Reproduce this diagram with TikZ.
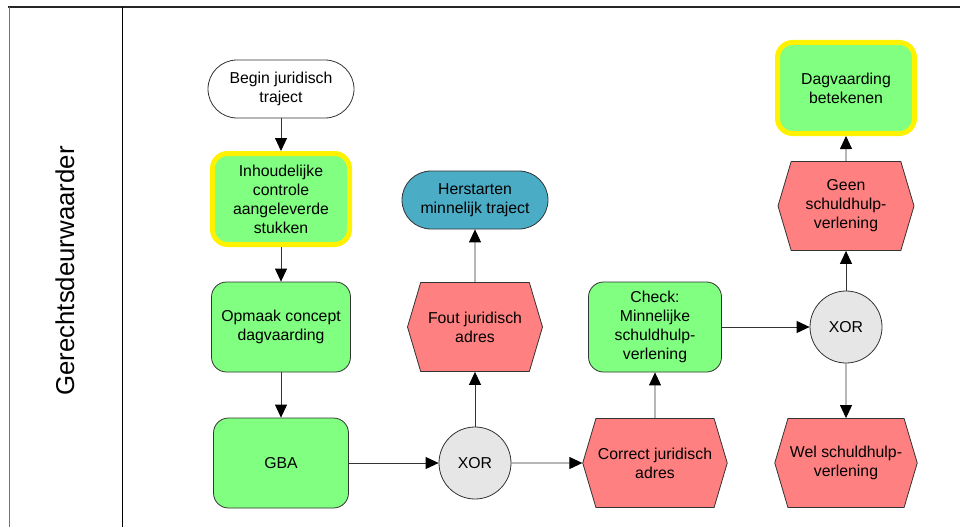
\documentclass[tikz,border=0pt]{standalone}
\usepackage{fontspec}
\setmainfont{Liberation Sans}
\usetikzlibrary{arrows.meta,shapes.symbols}
\definecolor{funcgreen}{HTML}{80FF80}
\definecolor{eventred}{HTML}{FF8080}
\definecolor{procblue}{HTML}{4BACC6}
\definecolor{xorgrey}{HTML}{E6E6E6}
\tikzset{
    box/.style={draw=black!80, line width=0.8pt, align=center, inner sep=2pt,
        font=\fontsize{15.8}{19}\selectfont},
    func/.style={box, rectangle, rounded corners=15pt, fill=funcgreen,
        minimum width=139pt, minimum height=90pt},
    startfunc/.style={func, draw=yellow, line width=5pt,
        minimum width=137pt, minimum height=91pt},
    event/.style={box, signal, signal to=east and west, signal pointer angle=147,
        fill=eventred, minimum width=135pt, minimum height=89pt},
    term/.style={box, rectangle, rounded corners=29pt,
        minimum width=146pt, minimum height=58pt},
    xor/.style={box, circle, fill=xorgrey, minimum size=72pt, inner sep=0pt},
    flow/.style={draw=black!80, line width=0.9pt,
        -{Triangle[length=13pt,width=12pt,black]}}
}
\begin{document}
\begin{tikzpicture}[x=1pt, y=-1pt]
        \useasboundingbox (0, 0) rectangle (960, 527);
        % lane
        \draw [line width=1.6pt, black!85] (8, 7) -- (960, 7);
        \draw [line width=1pt, black!55] (9, 7) -- (9, 527);
        \draw [line width=1pt] (122, 7) -- (122, 527);
        \node (lane) at (65, 271) [rotate=90, font=\fontsize{25.8}{30}\selectfont] {Gerechtsdeurwaarder};
        % nodes
        \node (0) at (281, 89) [term, fill=white] {Begin juridisch\\traject};
        \node (1) at (281, 199) [startfunc] {Inhoudelijke\\controle\\aangeleverde\\stukken};
        \node (2) at (281, 327) [func] {Opmaak concept\\dagvaarding};
        \node (3) at (281, 463) [func, minimum width=135pt] {GBA};
        \node (4) at (475, 463) [xor] {XOR};
        \node (5) at (475, 327) [event] {Fout juridisch\\adres};
        \node (6) at (475, 200) [term, fill=procblue] {Herstarten\\minnelijk traject};
        \node (7) at (655, 463) [event] {Correct juridisch\\adres};
        \node (8) at (655, 327) [func, minimum width=133pt] {Check:\\Minnelijke\\schuldhulp-\\verlening};
        \node (9) at (846, 327) [xor] {XOR};
        \node (10) at (846, 206) [event, minimum width=136pt] {Geen\\schuldhulp-\\verlening};
        \node (11) at (846, 88) [startfunc] {Dagvaarding\\betekenen};
        \node (12) at (846, 463) [event, minimum width=136pt] {Wel schuldhulp-\\verlening};
        % connectors
        \draw [flow] (0) -- (1);
        \draw [flow] (1) -- (2);
        \draw [flow] (2) -- (3);
        \draw [flow] (3) -- (4);
        \draw [flow] (4) -- (5);
        \draw [flow] (5) -- (6);
        \draw [flow] (4) -- (7);
        \draw [flow] (7) -- (8);
        \draw [flow] (8) -- (9);
        \draw [flow] (9) -- (10);
        \draw [flow] (10) -- (11);
        \draw [flow] (9) -- (12);
\end{tikzpicture}
\end{document}
